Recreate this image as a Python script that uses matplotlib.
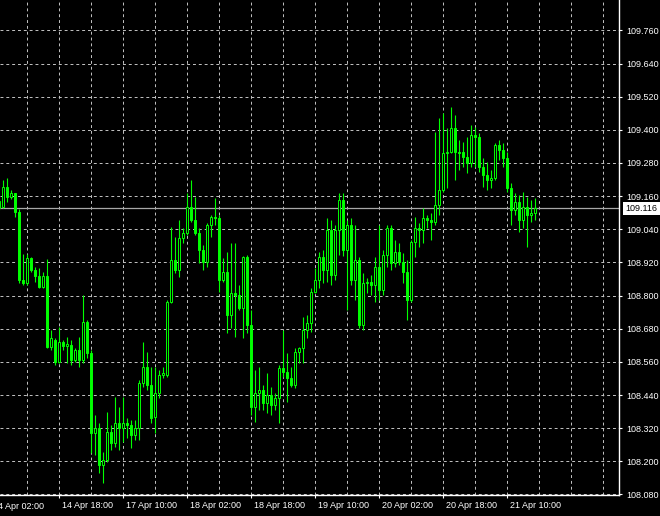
import numpy as np
import matplotlib.pyplot as plt
from matplotlib.transforms import ScaledTranslation, blended_transform_factory

# hourly candles, first one is 14 Apr 03:00 (weekend skipped)
opens = [109.117, 109.121, 109.193, 109.157, 109.171, 109.103, 108.856, 108.845, 108.936, 108.892,
         108.870, 108.831, 108.870, 108.614, 108.639, 108.559, 108.632, 108.617, 108.621, 108.566,
         108.603, 108.566, 108.704, 108.592, 108.302, 108.320, 108.186, 108.204, 108.306, 108.266,
         108.338, 108.320, 108.338, 108.331, 108.295, 108.320, 108.483, 108.541, 108.476, 108.360,
         108.447, 108.512, 108.512, 108.777, 108.929, 108.892, 109.008, 109.026, 109.121, 109.073,
         109.026, 108.965, 108.922, 109.055, 109.085, 109.081, 108.856, 108.885, 108.729, 108.809,
         108.802, 108.755, 108.940, 108.693, 108.396, 108.447, 108.458, 108.411, 108.440, 108.404,
         108.429, 108.537, 108.523, 108.501, 108.476, 108.595, 108.610, 108.675, 108.700, 108.813,
         108.856, 108.940, 108.892, 109.037, 108.874, 109.037, 109.146, 108.965, 109.055, 108.856,
         108.929, 108.693, 108.845, 108.849, 108.838, 108.903, 108.820, 108.947, 109.044, 108.918,
         108.958, 108.922, 108.885, 108.784, 108.994, 109.044, 109.037, 109.081, 109.073, 109.066,
         109.128, 109.182, 109.316, 109.320, 109.406, 109.320, 109.320, 109.301, 109.280, 109.381,
         109.374, 109.265, 109.236, 109.218, 109.225, 109.345, 109.327, 109.298, 109.189, 109.110,
         109.139, 109.073, 109.121, 109.092, 109.099]
highs = [109.153, 109.218, 109.225, 109.182, 109.164, 109.113, 108.951, 108.951, 108.940, 108.903,
         108.900, 108.885, 108.932, 108.675, 108.646, 108.686, 108.639, 108.650, 108.639, 108.610,
         108.650, 108.802, 108.711, 108.603, 108.367, 108.338, 108.234, 108.378, 108.331, 108.433,
         108.397, 108.433, 108.356, 108.349, 108.349, 108.494, 108.632, 108.595, 108.541, 108.541,
         108.530, 108.541, 108.784, 109.048, 109.012, 109.073, 109.044, 109.171, 109.218, 109.157,
         109.044, 108.983, 109.062, 109.092, 109.153, 109.092, 108.936, 108.958, 108.990, 108.990,
         108.838, 108.944, 108.947, 108.747, 108.530, 108.541, 108.476, 108.519, 108.469, 108.447,
         108.548, 108.675, 108.592, 108.541, 108.610, 108.614, 108.722, 108.729, 108.827, 108.900,
         108.958, 108.965, 109.081, 109.073, 109.055, 109.171, 109.171, 109.073, 109.081, 109.055,
         108.940, 108.881, 108.863, 108.874, 108.940, 109.055, 108.965, 109.055, 109.055, 109.001,
         108.990, 108.954, 108.929, 109.001, 109.085, 109.062, 109.117, 109.092, 109.099, 109.392,
         109.443, 109.461, 109.406, 109.483, 109.454, 109.363, 109.356, 109.374, 109.417, 109.410,
         109.388, 109.298, 109.283, 109.254, 109.352, 109.363, 109.352, 109.320, 109.207, 109.171,
         109.164, 109.175, 109.157, 109.146, 109.153]
lows = [109.110, 109.117, 109.139, 109.149, 109.085, 108.845, 108.838, 108.838, 108.885, 108.849,
        108.827, 108.827, 108.610, 108.603, 108.548, 108.555, 108.603, 108.555, 108.548, 108.559,
        108.541, 108.555, 108.574, 108.230, 108.223, 108.157, 108.121, 108.197, 108.241, 108.252,
        108.241, 108.270, 108.284, 108.248, 108.277, 108.277, 108.469, 108.458, 108.338, 108.302,
        108.429, 108.501, 108.505, 108.773, 108.881, 108.867, 108.990, 109.019, 109.066, 109.019,
        108.918, 108.892, 108.903, 109.012, 109.055, 108.813, 108.849, 108.664, 108.682, 108.650,
        108.747, 108.646, 108.664, 108.367, 108.342, 108.385, 108.385, 108.374, 108.367, 108.385,
        108.338, 108.505, 108.415, 108.469, 108.465, 108.555, 108.555, 108.646, 108.668, 108.809,
        108.827, 108.845, 108.849, 108.838, 108.856, 108.947, 108.944, 108.747, 108.838, 108.784,
        108.682, 108.675, 108.809, 108.802, 108.777, 108.784, 108.802, 108.903, 108.892, 108.903,
        108.911, 108.845, 108.711, 108.777, 108.940, 108.976, 108.990, 109.044, 109.001, 109.055,
        109.092, 109.175, 109.189, 109.316, 109.218, 109.254, 109.265, 109.243, 109.265, 109.265,
        109.247, 109.193, 109.182, 109.189, 109.218, 109.291, 109.265, 109.175, 109.055, 109.092,
        109.030, 109.044, 108.976, 109.066, 109.073]
closes = [109.142, 109.193, 109.157, 109.171, 109.103, 108.856, 108.845, 108.936, 108.892, 108.870,
          108.831, 108.870, 108.614, 108.646, 108.559, 108.632, 108.617, 108.625, 108.566, 108.603,
          108.566, 108.704, 108.592, 108.302, 108.320, 108.186, 108.204, 108.306, 108.266, 108.338,
          108.320, 108.338, 108.331, 108.295, 108.320, 108.483, 108.541, 108.476, 108.356, 108.447,
          108.512, 108.519, 108.777, 108.929, 108.892, 109.008, 109.026, 109.121, 109.073, 109.026,
          108.965, 108.922, 109.055, 109.085, 109.081, 108.856, 108.885, 108.729, 108.809, 108.802,
          108.755, 108.940, 108.693, 108.396, 108.447, 108.458, 108.411, 108.440, 108.404, 108.429,
          108.537, 108.523, 108.501, 108.476, 108.595, 108.610, 108.675, 108.700, 108.813, 108.856,
          108.940, 108.892, 109.037, 108.874, 109.037, 109.146, 108.965, 109.055, 108.856, 108.929,
          108.693, 108.845, 108.849, 108.838, 108.903, 108.820, 108.947, 109.044, 108.918, 108.958,
          108.922, 108.885, 108.784, 108.994, 109.044, 109.037, 109.081, 109.073, 109.066, 109.128,
          109.182, 109.316, 109.320, 109.406, 109.320, 109.316, 109.301, 109.280, 109.381, 109.374,
          109.265, 109.236, 109.218, 109.225, 109.345, 109.327, 109.298, 109.189, 109.110, 109.139,
          109.073, 109.121, 109.092, 109.099, 109.116]

# time labels every 16 bars, the first one sits one bar before the first candle
time_labels = ["14 Apr 02:00", "14 Apr 18:00", "17 Apr 10:00", "18 Apr 02:00", "18 Apr 18:00",
               "19 Apr 10:00", "20 Apr 02:00", "20 Apr 18:00", "21 Apr 10:00"]
price_ticks = [108.080, 108.200, 108.320, 108.440, 108.560, 108.680, 108.800, 108.920,
               109.040, 109.160, 109.280, 109.400, 109.520, 109.640, 109.760]
bid = 109.116

green = '#00ff00'
grid_col = '#c4c4c4'
fsize = 6.5
font = 'Liberation Sans'

fig = plt.figure(figsize=(6.6, 5.16), dpi=100, facecolor='black')
ax = fig.add_axes([0, 21/516, 619/660, 495/516], facecolor='black')

o = np.array(opens)
c = np.array(closes)
x = np.arange(len(o))
up = c >= o

ax.vlines(x, lows, highs, color=green, lw=0.8, zorder=3)
ax.bar(x, np.abs(c - o), width=0.5, bottom=np.minimum(o, c),
       facecolor=np.where(up, 'black', green), edgecolor=green, linewidth=0.7, zorder=4)

ax.axhline(bid, color='#a8a8a8', lw=0.9, zorder=2)

ax.set_xlim(0.25, 155)
ax.set_ylim(108.078, 109.870)

# axes decoration in MT4 style
for s in ['top', 'left']:
    ax.spines[s].set_visible(False)
for s in ['right', 'bottom']:
    ax.spines[s].set_color('white')
    ax.spines[s].set_linewidth(1)

major = list(range(15, 128, 16))
minor = [m for m in range(7, 156, 8) if m not in major]
ax.set_xticks(major)
ax.set_xticks(minor, minor=True)
ax.set_xticklabels(time_labels[1:])
ax.set_yticks(price_ticks)
ax.set_yticklabels(['%.3f' % p for p in price_ticks])
ax.yaxis.tick_right()

ax.tick_params(axis='both', which='major', colors='white', length=2.5, width=0.8,
               labelsize=fsize, pad=1.5)
ax.tick_params(axis='x', which='minor', length=0)
ax.tick_params(axis='y', pad=2.6)
for lbl in ax.get_xticklabels() + ax.get_yticklabels():
    lbl.set_family(font)
for lbl in ax.get_xticklabels():
    lbl.set_horizontalalignment('left')
    lbl.set_transform(lbl.get_transform() + ScaledTranslation(2/72, 0, fig.dpi_scale_trans))

ax.grid(True, which='both', color=grid_col, linestyle=(0, (3, 3)), linewidth=0.7, zorder=1)

# first label, partly off the left edge
trans = blended_transform_factory(ax.transData, ax.transAxes)
ax.text(-1, 0, time_labels[0], transform=trans + ScaledTranslation(-1.5/72, -5.2/72, fig.dpi_scale_trans),
        color='white', fontsize=fsize, family=font, ha='left', va='top', clip_on=False)

# current price box on the price scale
trans_y = blended_transform_factory(ax.transAxes, ax.transData)
ax.text(1.0, bid, '%.3f' % bid, transform=trans_y + ScaledTranslation(4.5/72, 0, fig.dpi_scale_trans),
        color='black', fontsize=fsize, family=font, ha='left', va='center', clip_on=False,
        bbox=dict(boxstyle='square,pad=0.25', fc='white', ec='none'))

fig.savefig('out.png', dpi=100, facecolor='black')
